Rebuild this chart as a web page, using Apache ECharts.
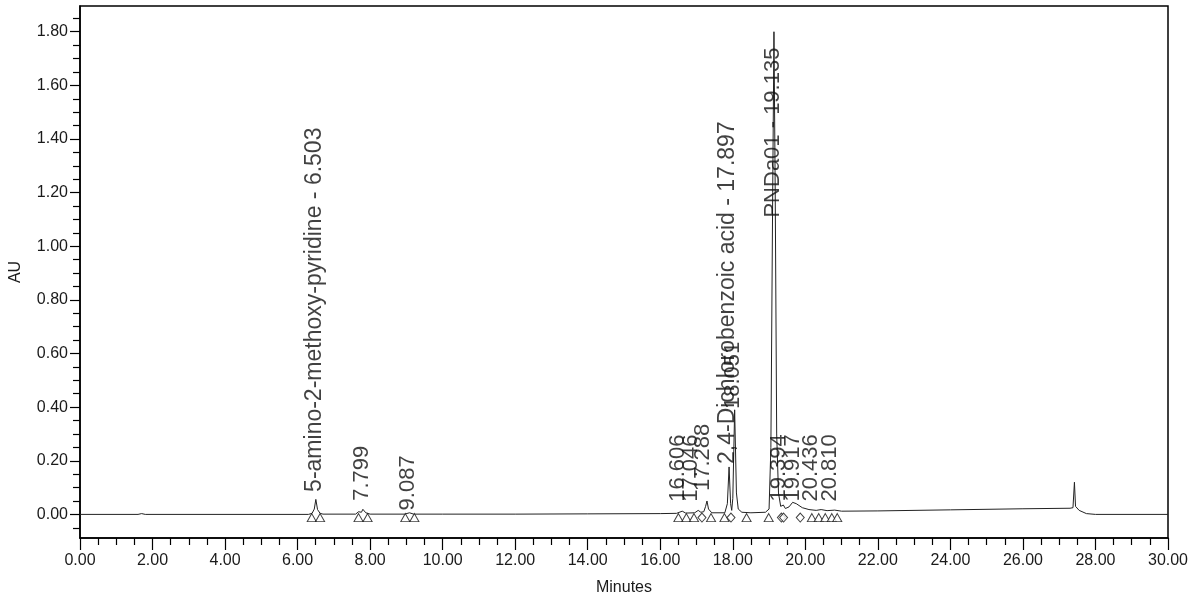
<!DOCTYPE html>
<html>
<head>
<meta charset="utf-8">
<script src="https://cdn.jsdelivr.net/npm/echarts@6/dist/echarts.min.js"></script>
<style>
html,body{margin:0;padding:0;background:#fff;}
#chart{width:1199px;height:601px;}
</style>
</head>
<body>
<div id="chart"></div>
<script>
// ---- Data ----
const traceTimes = [0, 1.60, 1.70, 1.80, 6.30, 6.40, 6.46, 6.503, 6.55, 6.62, 6.70, 7.60, 7.68, 7.72, 7.76, 7.80, 7.88, 8.00, 8.95, 9.087, 9.20, 10.0, 12.0, 14.0, 16.0, 16.45, 16.606, 16.70, 16.95, 17.046, 17.12, 17.20, 17.25, 17.288, 17.33, 17.42, 17.78, 17.85, 17.897, 17.94, 17.97, 18.00, 18.051, 18.10, 18.15, 18.25, 18.50, 18.90, 19.00, 19.05, 19.10, 19.135, 19.17, 19.21, 19.26, 19.32, 19.394, 19.45, 19.55, 19.65, 19.75, 19.917, 20.10, 20.30, 20.436, 20.60, 20.810, 21.00, 22.00, 24.00, 26.00, 27.30, 27.38, 27.42, 27.45, 27.55, 27.75, 28.00, 30.00];
const traceAU    = [0, 0.000, 0.003, 0.000, 0.000, 0.004, 0.020, 0.056, 0.018, 0.004, 0.001, 0.001, 0.010, 0.014, 0.008, 0.019, 0.006, 0.001, 0.001, 0.006, 0.001, 0.001, 0.001, 0.002, 0.003, 0.004, 0.012, 0.005, 0.006, 0.015, 0.008, 0.010, 0.030, 0.050, 0.020, 0.006, 0.006, 0.040, 0.177, 0.040, 0.015, 0.060, 0.390, 0.080, 0.020, 0.008, 0.006, 0.008, 0.020, 0.250, 1.200, 1.800, 1.200, 0.300, 0.080, 0.030, 0.035, 0.022, 0.028, 0.045, 0.040, 0.025, 0.018, 0.015, 0.018, 0.014, 0.016, 0.012, 0.013, 0.017, 0.021, 0.023, 0.025, 0.120, 0.030, 0.015, 0.003, 0.000, 0.000];

const triangleTimes = [6.39, 6.62, 7.68, 7.93, 8.97, 9.22, 16.50, 16.72, 16.93, 17.40, 17.77, 18.38, 18.99, 20.18, 20.37, 20.55, 20.73, 20.88];
const diamondTimes  = [17.15, 17.95, 19.34, 19.40, 19.86];
const markerAU = -0.012;

const peakLabels   = ['5-amino-2-methoxy-pyridine - 6.503', '7.799', '9.087', '16.606', '17.046', '17.288', '2,4-Dichlorobenzoic acid - 17.897', '18.051', 'PNDa01 - 19.135', '19.394', '19.917', '20.436', '20.810'];
const labelTimes   = [6.46, 7.77, 9.05, 16.50, 16.84, 17.19, 17.86, 18.00, 19.11, 19.26, 19.66, 20.16, 20.69];
const labelAU      = [0.084, 0.051, 0.015, 0.047, 0.047, 0.087, 0.188, 0.393, 1.107, 0.048, 0.048, 0.048, 0.048];

const yTickValues  = [0, 0.2, 0.4, 0.6, 0.8, 1.0, 1.2, 1.4, 1.6, 1.8];
const yMinorValues = [-0.05, 0.05, 0.10, 0.15, 0.25, 0.30, 0.35, 0.45, 0.50, 0.55, 0.65, 0.70, 0.75, 0.85, 0.90, 0.95, 1.05, 1.10, 1.15, 1.25, 1.30, 1.35, 1.45, 1.50, 1.55, 1.65, 1.70, 1.75, 1.85];

// ---- Chart ----
const FONT = '"Liberation Sans", Arial, sans-serif';
const chart = echarts.init(document.getElementById('chart'), null, {renderer: 'canvas'});
const yMin = -0.088, yMax = 1.896;

chart.setOption({
  animation: false,
  backgroundColor: '#fff',
  textStyle: {fontFamily: FONT},
  grid: {left: 80, right: 31, top: 6, bottom: 62, show: true, borderColor: '#000', borderWidth: 1.5, backgroundColor: 'transparent'},
  xAxis: {
    type: 'value', min: 0, max: 30, interval: 2,
    name: 'Minutes', nameLocation: 'middle', nameGap: 42,
    nameTextStyle: {fontSize: 16, color: '#1a1a1a', fontFamily: FONT},
    axisLine: {show: true, onZero: false, lineStyle: {color: '#000', width: 1.5}},
    axisTick: {show: true, length: 12, lineStyle: {color: '#000', width: 1.2}},
    minorTick: {show: true, splitNumber: 4, length: 7, lineStyle: {color: '#000', width: 1.2}},
    axisLabel: {fontSize: 16, color: '#1a1a1a', margin: 15, fontFamily: FONT, formatter: v => v.toFixed(2)},
    splitLine: {show: false}, minorSplitLine: {show: false}
  },
  yAxis: [{
    type: 'value', min: yMin, max: yMax,
    name: 'AU', nameLocation: 'middle', nameGap: 56,
    nameTextStyle: {fontSize: 16, color: '#1a1a1a', fontFamily: FONT},
    axisLine: {show: true, onZero: false, lineStyle: {color: '#000', width: 1.5}},
    axisTick: {show: true, length: 10, customValues: yTickValues, lineStyle: {color: '#000', width: 1.2}},
    axisLabel: {show: true, fontSize: 16, color: '#1a1a1a', margin: 12, fontFamily: FONT, customValues: yTickValues, formatter: v => v.toFixed(2)},
    splitLine: {show: false}
  }, {
    type: 'value', min: yMin, max: yMax, position: 'left', offset: 0,
    axisLine: {show: false},
    axisTick: {show: true, length: 7, customValues: yMinorValues, lineStyle: {color: '#000', width: 1.2}},
    axisLabel: {show: false},
    splitLine: {show: false}
  }],
  series: [{
    type: 'line',
    data: traceTimes.map((t, i) => [t, traceAU[i]]),
    showSymbol: false, symbol: 'none',
    lineStyle: {color: '#222', width: 1},
    z: 3
  }, {
    type: 'scatter',
    data: triangleTimes.map(t => [t, markerAU]),
    symbol: 'triangle', symbolSize: [9, 8],
    itemStyle: {color: '#fff', borderColor: '#111', borderWidth: 1},
    z: 4
  }, {
    type: 'scatter',
    data: diamondTimes.map(t => [t, markerAU]),
    symbol: 'diamond', symbolSize: [8, 9],
    itemStyle: {color: '#fff', borderColor: '#111', borderWidth: 1},
    z: 4
  }, {
    type: 'scatter',
    data: labelTimes.map((t, i) => ({
      value: [t, labelAU[i]], name: peakLabels[i],
      label: peakLabels[i].length > 16 && peakLabels[i].indexOf('PNDa01') < 0 ? {fontSize: 23} : {}
    })),
    symbolSize: 1,
    itemStyle: {color: 'rgba(0,0,0,0)'},
    label: {
      show: true, position: 'inside', rotate: 90, align: 'left', verticalAlign: 'middle',
      fontSize: 22, color: '#111', fontFamily: FONT,
      formatter: p => p.name
    },
    z: 5
  }]
});
</script>
</body>
</html>
